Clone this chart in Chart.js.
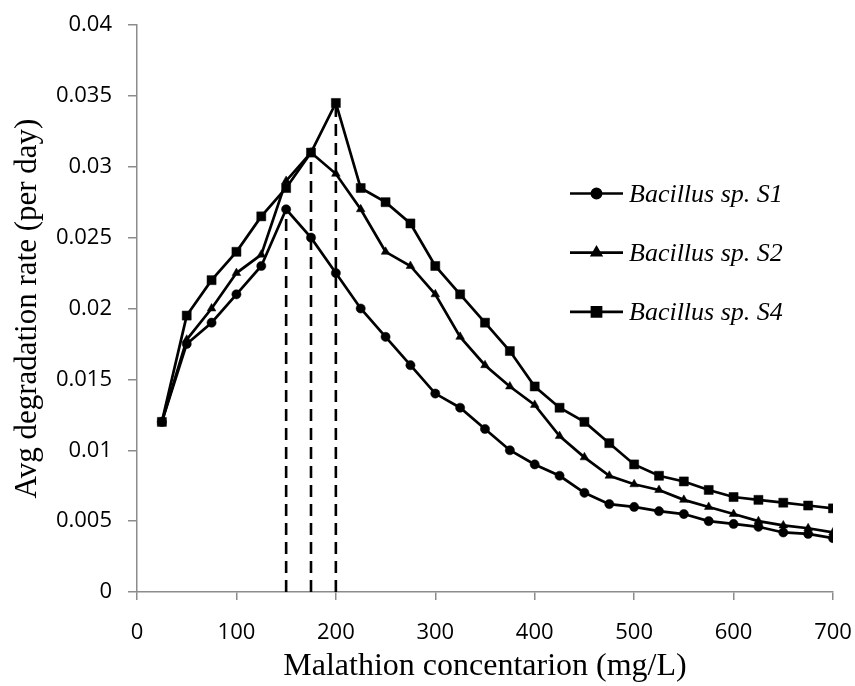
<!DOCTYPE html>
<html>
<head>
<meta charset="utf-8">
<script src="https://cdn.jsdelivr.net/npm/chart.js@4.4.0/dist/chart.umd.min.js"></script>
<style>
  html, body { margin: 0; padding: 0; background: #fff; }
</style>
</head>
<body>
<canvas id="chart" width="855" height="686"></canvas>
<script>
// malathion concentration (mg/L)
const concentrations = [25, 50, 75, 100, 125, 150, 175, 200, 225, 250, 275, 300, 325, 350,
                        375, 400, 425, 450, 475, 500, 525, 550, 575, 600, 625, 650, 675, 700];

// avg degradation rate (per day)
const strainS1 = [0.012, 0.0175, 0.019, 0.021, 0.023, 0.027, 0.025, 0.0225, 0.02, 0.018,
                  0.016, 0.014, 0.013, 0.0115, 0.01, 0.009, 0.0082, 0.007, 0.0062, 0.006,
                  0.0057, 0.0055, 0.005, 0.0048, 0.0046, 0.0042, 0.0041, 0.0038];
const strainS2 = [0.012, 0.0178, 0.02, 0.0225, 0.0238, 0.029, 0.031, 0.0295, 0.027, 0.024,
                  0.023, 0.021, 0.018, 0.016, 0.0145, 0.0132, 0.011, 0.0095, 0.0082, 0.0076,
                  0.0072, 0.0065, 0.006, 0.0055, 0.005, 0.0047, 0.0045, 0.0042];
const strainS4 = [0.012, 0.0195, 0.022, 0.024, 0.0265, 0.0285, 0.031, 0.0345, 0.0285, 0.0275,
                  0.026, 0.023, 0.021, 0.019, 0.017, 0.0145, 0.013, 0.012, 0.0105, 0.009,
                  0.0082, 0.0078, 0.0072, 0.0067, 0.0065, 0.0063, 0.0061, 0.0059];

const seriesNames = ["Bacillus sp. S1", "Bacillus sp. S2", "Bacillus sp. S4"];
const seriesMarkers = ["circle", "triangle", "rect"];

// optimum concentration of each strain, marked with a dashed drop line
const peakConcentrations = [150, 175, 200];

const xTicks = [0, 100, 200, 300, 400, 500, 600, 700];
const yTicks = [0, 0.005, 0.01, 0.015, 0.02, 0.025, 0.03, 0.035, 0.04];

const allSeries = [strainS1, strainS2, strainS4];
const peakRates = peakConcentrations.map((c, i) => allSeries[i][concentrations.indexOf(c)]);

const axisGray = "#8c8c8c";
const markerSizes = { circle: 4.6, triangle: 5, rect: 6.4 };

function toPoints(values) {
    return concentrations.map((c, i) => ({ x: c, y: values[i] }));
}

let datasets = allSeries.map((values, i) => ({
    label: seriesNames[i],
    data: toPoints(values),
    borderColor: "#000",
    backgroundColor: "#000",
    borderWidth: 2.7,
    pointStyle: seriesMarkers[i],
    pointRadius: markerSizes[seriesMarkers[i]],
    pointBorderWidth: 0.5,
    pointBorderColor: "#000",
    pointBackgroundColor: "#000",
    tension: 0
}));

peakConcentrations.forEach((c, i) => {
    datasets.push({
        label: "peak " + c,
        data: [{ x: c, y: 0 }, { x: c, y: peakRates[i] }],
        borderColor: "#000",
        borderWidth: 2.6,
        borderDash: [12, 7],
        pointRadius: 0,
        tension: 0
    });
});

// legend drawn inside the plot, to the right like in the original figure
const insideLegend = {
    id: "insideLegend",
    afterDraw: function(chart) {
        let ctx = chart.ctx;
        let area = chart.chartArea;
        let lineLeft = area.left + 433;
        let lineRight = lineLeft + 53;
        let rows = [168.5, 227.7, 286.8];

        ctx.save();
        seriesNames.forEach((name, i) => {
            let y = area.top + rows[i];
            ctx.strokeStyle = "#000";
            ctx.lineWidth = 2.7;
            ctx.beginPath();
            ctx.moveTo(lineLeft, y);
            ctx.lineTo(lineRight, y);
            ctx.stroke();

            Chart.helpers.drawPoint(ctx, {
                pointStyle: seriesMarkers[i],
                radius: markerSizes[seriesMarkers[i]],
                rotation: 0,
                borderWidth: 0.5
            }, (lineLeft + lineRight) / 2, y);
            ctx.fillStyle = "#000";
            ctx.fill();

            ctx.fillStyle = "#000";
            ctx.font = "italic 26px 'Liberation Serif'";
            ctx.textAlign = "left";
            ctx.textBaseline = "middle";
            ctx.fillText(name, lineRight + 6, y + 1.5);
        });
        ctx.restore();
    }
};

let ctx = document.getElementById("chart");
let degradationChart = new Chart(ctx, {
    type: "line",
    data: { datasets: datasets },
    plugins: [insideLegend],
    options: {
        responsive: false,
        animation: false,
        layout: { padding: { top: 25, right: 22, left: 0, bottom: 0 } },
        plugins: {
            legend: { display: false },
            tooltip: { enabled: false }
        },
        scales: {
            x: {
                type: "linear",
                min: xTicks[0],
                max: xTicks[xTicks.length - 1],
                afterBuildTicks: function(scale) {
                    scale.ticks = xTicks.map(v => ({ value: v }));
                },
                afterFit: function(scale) {
                    scale.height = 94;
                    scale.paddingLeft = 0;
                    scale.paddingRight = 0;
                },
                grid: { drawOnChartArea: false, drawTicks: true, tickLength: 8, color: axisGray, lineWidth: 1.5 },
                border: { color: axisGray, width: 1.5 },
                ticks: {
                    color: "#000",
                    padding: 20,
                    maxRotation: 0,
                    font: { family: "'Open Sans'", size: 22 }
                },
                title: {
                    display: true,
                    text: "Malathion concentarion (mg/L)",
                    color: "#000",
                    padding: { top: 0, bottom: 0 },
                    font: { family: "'Liberation Serif'", size: 32 }
                }
            },
            y: {
                min: yTicks[0],
                max: yTicks[yTicks.length - 1],
                afterBuildTicks: function(scale) {
                    scale.ticks = yTicks.map(v => ({ value: v }));
                },
                afterFit: function(scale) {
                    scale.width = 137;
                    scale.paddingTop = 0;
                    scale.paddingBottom = 0;
                },
                grid: { drawOnChartArea: false, drawTicks: true, tickLength: 9, color: axisGray, lineWidth: 1.5 },
                border: { color: axisGray, width: 1.5 },
                ticks: {
                    color: "#000",
                    padding: 16,
                    font: { family: "'Open Sans'", size: 22 },
                    callback: function(value) { return String(Number(value.toFixed(3))); }
                },
                title: {
                    display: true,
                    text: "Avg degradation rate (per day)",
                    color: "#000",
                    padding: { top: 9, bottom: 0 },
                    font: { family: "'Liberation Serif'", size: 31 }
                }
            }
        }
    }
});
</script>
</body>
</html>
